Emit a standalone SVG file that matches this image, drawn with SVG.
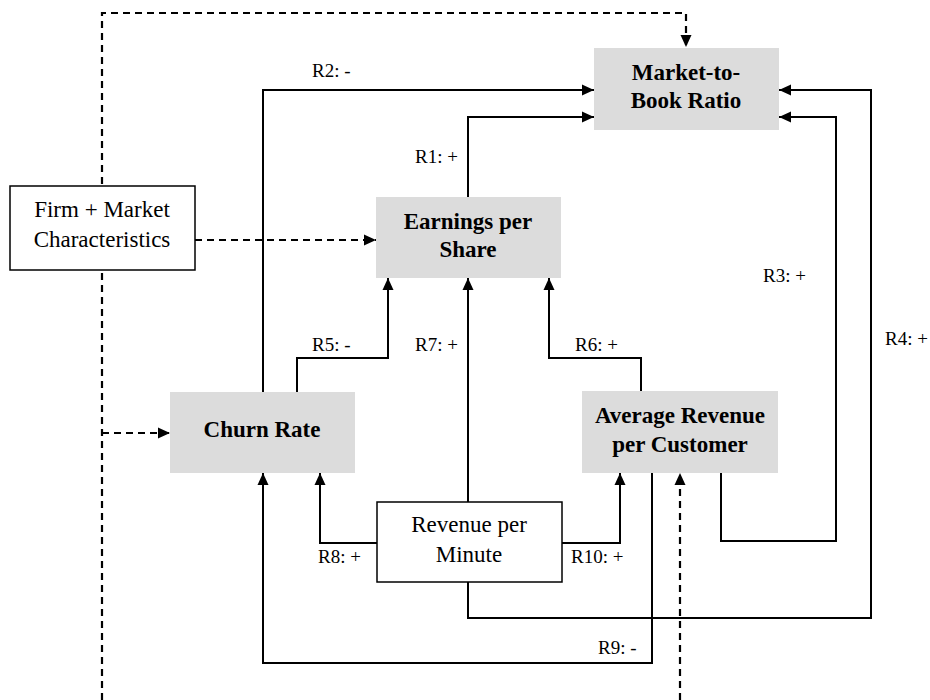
<svg xmlns="http://www.w3.org/2000/svg" width="930" height="700" viewBox="0 0 930 700">
<style>
.gbox{fill:#dcdcdc;stroke:none}
.wbox{fill:#ffffff;stroke:#000;stroke-width:1.5}
.t{font-family:"Liberation Serif","Times New Roman",serif;font-size:23px;fill:#000;text-anchor:middle}
.b{font-weight:bold}
.lbl{font-family:"Liberation Serif","Times New Roman",serif;font-size:19px;fill:#000}
.c{fill:none;stroke:#000;stroke-width:2}
.d{fill:none;stroke:#000;stroke-width:2.2;stroke-dasharray:7 5}
</style>
<defs>
<marker id="ah" viewBox="0 0 12 12" refX="12" refY="6" markerWidth="12" markerHeight="12" markerUnits="userSpaceOnUse" orient="auto">
<path d="M0,0.5 L12,6 L0,11.5 z" fill="#000"/>
</marker>
</defs>
<rect width="930" height="700" fill="#fff"/>
<g id="connectors">
<path class="d" d="M102,700 V13 H686 V47" marker-end="url(#ah)"/>
<path class="d" d="M102,433 H170" marker-end="url(#ah)"/>
<path class="d" d="M195,240 H376" marker-end="url(#ah)"/>
<path class="d" d="M680,700 V473" marker-end="url(#ah)"/>
<path class="c" d="M468,197 V117 H594" marker-end="url(#ah)"/>
<path class="c" d="M263,392 V90 H594" marker-end="url(#ah)"/>
<path class="c" d="M721,473 V541 H836 V117 H779" marker-end="url(#ah)"/>
<path class="c" d="M468,582 V618 H871 V90 H779" marker-end="url(#ah)"/>
<path class="c" d="M297,392 V358 H388 V278" marker-end="url(#ah)"/>
<path class="c" d="M641,391 V358 H549 V278" marker-end="url(#ah)"/>
<path class="c" d="M468,502 V278" marker-end="url(#ah)"/>
<path class="c" d="M377,543 H320 V473" marker-end="url(#ah)"/>
<path class="c" d="M652,473 V663 H263 V473" marker-end="url(#ah)"/>
<path class="c" d="M562,543 H620 V473" marker-end="url(#ah)"/>
<text class="lbl" x="312" y="77">R2: -</text>
<text class="lbl" x="415" y="163">R1: +</text>
<text class="lbl" x="312" y="351">R5: -</text>
<text class="lbl" x="415" y="351">R7: +</text>
<text class="lbl" x="575" y="351">R6: +</text>
<text class="lbl" x="763" y="282">R3: +</text>
<text class="lbl" x="885" y="345">R4: +</text>
<text class="lbl" x="318" y="563">R8: +</text>
<text class="lbl" x="571" y="563">R10: +</text>
<text class="lbl" x="598" y="654">R9: -</text>
</g>
<g id="market-to-book">
<rect class="gbox" x="594" y="48" width="185" height="82"/>
<text class="t b" x="686" y="80">Market-to-</text>
<text class="t b" x="686" y="108">Book Ratio</text>
</g>
<g id="earnings">
<rect class="gbox" x="376" y="197" width="185" height="81"/>
<text class="t b" x="468" y="229">Earnings per</text>
<text class="t b" x="468" y="257">Share</text>
</g>
<g id="firm-market">
<rect class="wbox" x="10" y="186" width="185" height="84"/>
<text class="t" x="102" y="217">Firm + Market</text>
<text class="t" x="102" y="247">Characteristics</text>
</g>
<g id="churn">
<rect class="gbox" x="170" y="392" width="185" height="81"/>
<text class="t b" x="262" y="437">Churn Rate</text>
</g>
<g id="arpc">
<rect class="gbox" x="582" y="391" width="196" height="82"/>
<text class="t b" x="680" y="423">Average Revenue</text>
<text class="t b" x="680" y="452">per Customer</text>
</g>
<g id="rpm">
<rect class="wbox" x="377" y="502" width="185" height="80"/>
<text class="t" x="469" y="532">Revenue per</text>
<text class="t" x="469" y="562">Minute</text>
</g>
</svg>
